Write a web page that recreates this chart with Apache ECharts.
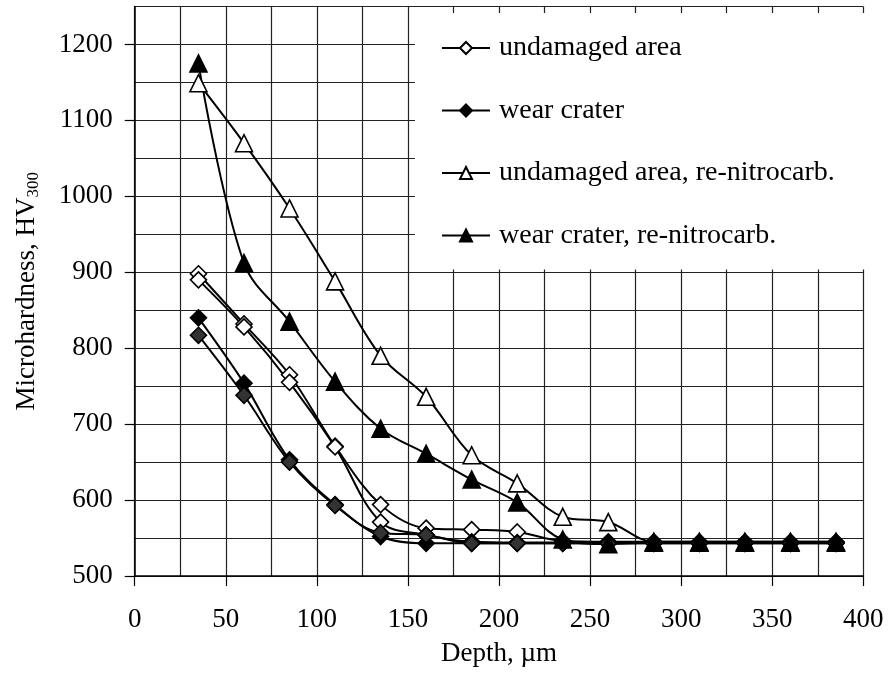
<!DOCTYPE html>
<html>
<head>
<meta charset="utf-8">
<script src="https://cdn.jsdelivr.net/npm/echarts@6/dist/echarts.min.js"></script>
<style>
html,body{margin:0;padding:0;background:#fff;}
#chart{width:889px;height:685px;}
</style>
</head>
<body>
<div id="chart"></div>
<script>
const depth = [35, 60, 85, 110, 135, 160, 185, 210, 235, 260, 285, 310, 335, 360, 385];
const undamaged1 = [898, 832, 765, 671, 594, 563, 561, 558, 546, 545, 545, 545, 545, 545, 545];
const undamaged2 = [890, 828, 755, 670, 571, 554, 545, 544, 544, 544, 544, 544, 544, 544, 544];
const crater1 = [840, 754, 653, 594, 552, 543, 543, 543, 543, 543, 543, 543, 543, 543, 543];
const crater2 = [817, 738, 650, 593, 557, 554, 543, 543, 543, 543, 543, 543, 543, 543, 543];
const undamagedRe = [1149, 1070, 984, 888, 790, 736, 659, 622, 578, 571, 545, 545, 545, 545, 545];
const craterRe = [1175, 912, 835, 756, 694, 661, 627, 597, 548, 542, 544, 544, 544, 544, 544];

const xTickLabels = [0, 50, 100, 150, 200, 250, 300, 350, 400];
const yTickLabels = [500, 600, 700, 800, 900, 1000, 1100, 1200];

const names = ['undamaged area', 'wear crater', 'undamaged area, re-nitrocarb.', 'wear crater, re-nitrocarb.'];

const FONT = '"Liberation Serif", "Times New Roman", serif';

function pairs(vals) { return depth.map((d, i) => [d, vals[i]]); }

function mk(name, vals, symbol, fill, size) {
  return {
    name: name,
    type: 'line',
    xAxisIndex: 0,
    yAxisIndex: 0,
    data: pairs(vals),
    smooth: 0.35,
    symbol: symbol,
    symbolSize: size,
    showSymbol: true,
    lineStyle: { color: '#000', width: 2 },
    itemStyle: { color: fill, borderColor: '#000', borderWidth: 1.6 },
    emphasis: { disabled: true },
    animation: false
  };
}

const gridLine = { show: true, lineStyle: { color: '#222', width: 1.2 } };

const chart = echarts.init(document.getElementById('chart'), null, { renderer: 'canvas' });
chart.setOption({
  backgroundColor: '#fff',
  animation: false,
  grid: { left: 134.7, right: 25.7, top: 6.5, bottom: 109, containLabel: false },
  legend: {
    data: names,
    orient: 'vertical',
    left: 415,
    top: 13,
    backgroundColor: '#fff',
    padding: [20, 33, 19, 26],
    itemGap: 32.5,
    itemWidth: 48,
    itemHeight: 15,
    selectedMode: false,
    textStyle: { fontFamily: FONT, fontSize: 28, color: '#000', lineHeight: 30, padding: [0, 0, 0, 4] }
  },
  xAxis: [{
    type: 'value',
    min: 0, max: 400, interval: 25,
    name: 'Depth, µm',
    nameLocation: 'middle',
    nameGap: 64,
    nameTextStyle: { fontFamily: FONT, fontSize: 27, color: '#000' },
    axisLine: { show: true, lineStyle: { color: '#000', width: 1.5 } },
    axisTick: { show: true, customValues: xTickLabels, length: 10, lineStyle: { color: '#000', width: 1.2 } },
    axisLabel: { customValues: xTickLabels, margin: 30, fontFamily: FONT, fontSize: 27, color: '#000', formatter: v => String(v) },
    splitLine: { show: false }
  }, {
    type: 'value',
    position: 'top',
    min: 0, max: 400, interval: 25,
    axisLine: { show: false },
    axisTick: { show: false },
    axisLabel: { show: false },
    splitLine: gridLine
  }],
  yAxis: [{
    type: 'value',
    min: 500, max: 1250, interval: 50,
    name: '{a|Microhardness, HV}{s|300}',
    nameLocation: 'middle',
    nameRotate: 90,
    nameGap: 93,
    nameTextStyle: {
      fontFamily: FONT, color: '#000',
      rich: {
        a: { fontFamily: FONT, fontSize: 27, color: '#000', lineHeight: 30 },
        s: { fontFamily: FONT, fontSize: 17, color: '#000', lineHeight: 30, verticalAlign: 'bottom', padding: [8, 0, 0, 0] }
      }
    },
    axisLine: { show: true, lineStyle: { color: '#000', width: 1.5 } },
    axisTick: { show: true, customValues: yTickLabels, length: 10, lineStyle: { color: '#000', width: 1.2 } },
    axisLabel: { customValues: yTickLabels, margin: 22, fontFamily: FONT, fontSize: 27, color: '#000', formatter: v => String(v) },
    splitLine: { show: false }
  }, {
    type: 'value',
    position: 'right',
    min: 500, max: 1250, interval: 50,
    axisLine: { show: false },
    axisTick: { show: false },
    axisLabel: { show: false },
    splitLine: gridLine
  }],
  series: [
    mk(names[0], undamaged1, 'diamond', '#fff', 16),
    mk(names[0], undamaged2, 'diamond', '#fff', 16),
    mk(names[1], crater1, 'diamond', '#000', 16),
    mk(names[1], crater2, 'diamond', '#333', 16),
    mk(names[2], undamagedRe, 'triangle', '#fff', 17),
    mk(names[3], craterRe, 'triangle', '#000', 17)
  ]
});
</script>
</body>
</html>
